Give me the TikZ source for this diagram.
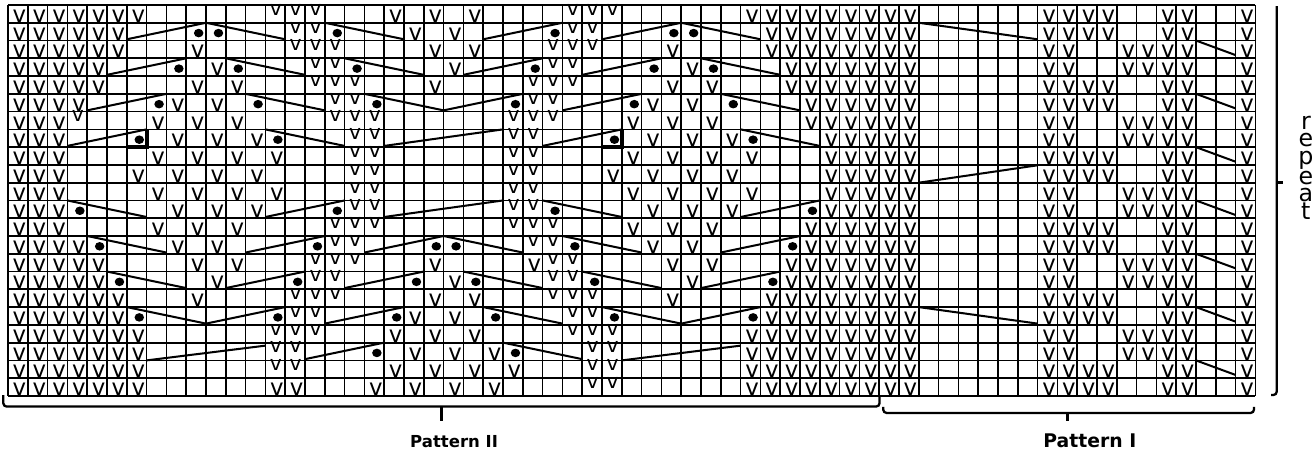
\documentclass[tikz,border=0pt]{standalone}
\usepackage{fontspec}
\setmainfont{DejaVu Sans}
\usepackage{xcolor}
\usetikzlibrary{arrows.meta, positioning}

\begin{document}
\begin{tikzpicture}[
  x=0.396cm, y=-0.3554cm,
  gridline/.style = {line width=1pt, black},
  stitch/.style   = {inner sep=0pt, anchor=base, font=\fontsize{13}{13}\selectfont},
  raised/.style   = {inner sep=0pt, anchor=base, font=\fontsize{11.5}{11.5}\selectfont},
  cable/.style    = {line width=1.15pt, black},
  bracket/.style  = {line width=1.3pt, rounded corners=2pt},
  tick/.style     = {line width=1.7pt},
  patlabel/.style = {inner sep=0pt, font=\bfseries}
]
\useasboundingbox (-0.404,-0.281) rectangle (65.96,25.32);

%% ---- STITCHES: PATTERN II ----
% left edge of each row
\foreach \r/\n in {1/7,2/6,3/6,4/5,5/5,6/4,7/3,8/3,9/3,10/3,11/3,12/3,13/3,14/4,15/5,16/5,17/6,18/6,19/7,20/7,21/7,22/7}
  \foreach \c in {1,...,\n}
    \node[stitch] (sl\r-\c) at (\c-.42,\r-.02) {v};

% right edge of each row
\foreach \r/\n in {1/38,2/39,3/39,4/40,5/40,6/41,7/41,8/42,9/42,10/42,11/42,12/42,13/41,14/41,15/40,16/40,17/39,18/39,19/38,20/38,21/38,22/38}
  \foreach \c in {\n,...,46}
    \node[stitch] (sr\r-\c) at (\c-.42,\r-.02) {v};

% stitches in between
\foreach \r/\cols in {1/{20,22,24},2/{21,23},3/{10,22,24,34},4/{11,23,35},5/{10,12,22,34,36},
    6/{9,11,33,35},7/{8,10,12,32,34,36},8/{9,11,13,33,35,37},9/{8,10,12,14,32,34,36,38},
    10/{7,9,11,13,31,33,35,37},11/{8,10,12,14,32,34,36,38},12/{9,11,13,33,35,37},
    13/{8,10,12,32,34,36},14/{9,11,33,35},15/{10,12,22,27,34,36},16/{11,23,35},
    17/{10,22,24,34},18/{21,23},19/{20,22,24},20/{21,23,25},21/{20,22,24,26},22/{14,15,19,21,23,25}}
  \foreach \c in \cols
    \node[stitch] (sm\r-\c) at (\c-.42,\r-.02) {v};

% small stitches sitting high in the cell
\foreach \r/\cols in {1/{14,15,16,29,30,31},2/{15,16,29,30},3/{15,16,17,28,29,30},4/{16,17,28,29},
    5/{16,17,18,27,28,29},6/{17,18,27,28},7/{4,17,18,19,26,27,28},8/{18,19,26,27},9/{18,19,26,27},
    10/{18,19,26,27},11/{18,19,26,27},12/{18,19,26,27},13/{17,18,19,26,27,28},14/{17,18,27,28},
    15/{16,17,18,28,29},16/{16,17,28,29},17/{15,16,17,28,29,30},18/{15,16,29,30},
    19/{14,15,16,29,30,31},20/{14,15,30,31},21/{14,15,30,31},22/{30,31}}
  \foreach \c in \cols
    \node[raised] (su\r-\c) at (\c-.47,\r-.42) {v};

%% ---- STITCHES: PATTERN I ----
\foreach \r in {1,2,5,6,9,10,13,14,17,18,21,22}
  \foreach \c in {53,54,55,56,59,60,63}
    \node[stitch] (pa\r-\c) at (\c-.42,\r-.02) {v};
\foreach \r in {3,4,7,8,11,12,15,16,19,20}
  \foreach \c in {53,54,57,58,59,60,63}
    \node[stitch] (pb\r-\c) at (\c-.42,\r-.02) {v};

%% ---- GRID ----
\foreach \c in {0,...,63}
  \draw[gridline] (\c,0) -- (\c,22);
\foreach \r in {0,...,22}
  \draw[gridline] (0,\r) -- (63,\r);

%% ---- DOTS ----
\foreach \r/\cols in {2/{10,11,17,28,34,35},4/{9,12,18,27,33,36},6/{8,13,19,26,32,37},8/{7,14,31,38},
    12/{4,17,28,41},14/{5,16,22,23,29,40},16/{6,15,21,24,30,39},18/{7,14,20,25,31,38},20/{19,26}}
  \foreach \c in \cols
    \fill (\c-.37,\r-.42) ellipse [x radius=0.24, y radius=0.24];

%% ---- CABLES ----
% rising to the right
\foreach \r/\a/\b in {2/7/10,2/25/28,2/31/34,4/6/9,4/24/27,4/30/33,6/5/8,6/23/26,6/29/32,
    8/4/7,8/20/25,8/28/31,12/14/17,12/20/25,12/38/41,14/13/16,14/19/22,14/37/40,
    16/12/15,16/18/21,16/36/39,18/11/14,18/17/20,18/35/38,20/16/19}
  \draw[cable] (\a-1,\r-.07) -- (\b,\r-1);
\foreach \a/\b in {8/13,32/37}
  \draw[cable] (\a-1,20) -- (\b,19.17);
\draw[cable] (46,10) -- (52,9.02);

% falling to the right
\foreach \r/\a/\b in {2/11/14,2/17/20,2/35/38,2/47/52,4/12/15,4/18/21,4/36/39,6/13/16,6/19/22,6/37/40,
    8/14/17,8/38/41,12/4/7,12/28/31,14/5/8,14/23/26,14/29/32,16/6/9,16/24/27,16/30/33,
    18/7/10,18/25/28,18/31/34,18/47/52,20/26/29}
  \draw[cable] (\a-1,\r-1) -- (\b,\r-.07);

% short cables in pattern I
\foreach \r in {3,6,9,12,15,18,21}
  \draw[cable] (60,\r-1) -- (62,\r-.18);

% the two heavy corners
\foreach \c/\r in {7/8,31/8}
  \draw[line width=2.2pt] (\c,\r-1) -- (\c,\r+.1) (\c,\r) -- (\c-1,\r);

%% ---- BRACKETS AND LABELS ----
\coordinate (tickII) at (21.9,23.4);
\coordinate (tickI)  at (53.53,23.4);

\draw[bracket] (-0.24,21.95) -- (-0.24,22.6) -- (44.02,22.6) -- (44.02,21.98);
\draw[tick] (21.9,22.6) -- (tickII);
\draw[bracket] (44.2,22.62) -- (44.2,22.96) -- (62.93,22.96) -- (62.93,22.62);
\draw[tick] (53.53,22.96) -- (tickI);

\node[patlabel, below=0.28cm of tickII, xshift=0.25cm,
      font=\bfseries\fontsize{9.4}{9.4}\selectfont] (patII) {Pattern II};
\node[patlabel, below=0.26cm of tickI, xshift=0.44cm,
      font=\bfseries\fontsize{10.7}{10.7}\selectfont] (patI) {Pattern I};

% repeat marker on the right
\draw[bracket] (63.8,21.95) -- (64.08,21.95) -- (64.08,0.06);
\draw[tick] (64.08,10) -- (64.4,10);
\node[inner sep=0pt, align=center, font=\fontsize{13.5}{10}\selectfont] (rep) at (65.55,9.15) {r\\e\\p\\e\\a\\t};

\end{tikzpicture}
\end{document}
